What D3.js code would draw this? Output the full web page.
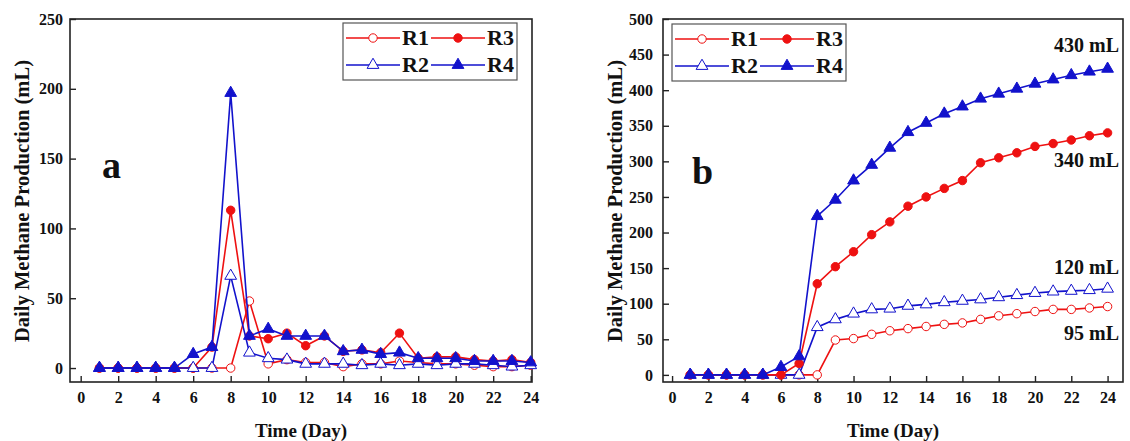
<!DOCTYPE html>
<html>
<head>
<meta charset="utf-8">
<script src="https://cdn.jsdelivr.net/npm/d3@7"></script>
<style>
  body { margin: 0; background: #fff; }
  svg text { font-family: "Liberation Serif", "Times New Roman", serif; font-weight: bold; fill: #111; }
</style>
</head>
<body>
<svg id="chart" width="1130" height="441"></svg>
<script>
// DATA
const days = d3.range(1, 25);
const seriesNames = ["R1", "R2", "R3", "R4"];

// panel a : daily production (mL)
const dailyR1 = [0, 0, 0, 0, 0, 0, 0, 0, 48, 3, 6, 4, 4, 1, 3, 3, 5, 4, 3, 3, 2, 1, 1, 2];
const dailyR2 = [0, 0, 0, 0, 0, 0, 0, 66, 11, 7, 6, 3, 3, 3, 2, 3, 2, 3, 2, 3, 3, 2, 1, 2];
const dailyR3 = [0, 0, 0, 0, 0, 0, 15, 113, 23, 21, 25, 16, 23, 12, 13, 11, 25, 7, 8, 8, 6, 5, 6, 4];
const dailyR4 = [0, 0, 0, 0, 0, 10, 15, 197, 23, 28, 23, 23, 23, 12, 13, 10, 11, 7, 7, 7, 5, 5, 5, 4];

// panel b : cumulative production (mL)
const cumR1 = [0, 0, 0, 0, 0, 0, 0, 0, 49, 51, 57, 62, 65, 68, 71, 73, 78, 83, 86, 89, 92, 92, 94, 96];
const cumR2 = [0, 0, 0, 0, 0, 0, 0, 67, 78, 86, 92, 93, 97, 99, 102, 104, 106, 109, 112, 115, 117, 118, 119, 121];
const cumR3 = [0, 0, 0, 0, 0, 0, 16, 128, 152, 173, 197, 215, 237, 250, 262, 273, 298, 305, 312, 321, 325, 330, 336, 340];
const cumR4 = [0, 0, 0, 0, 0, 11, 26, 223, 246, 273, 295, 319, 341, 354, 367, 377, 388, 395, 402, 409, 415, 421, 426, 430];

const xTicks = d3.range(0, 25, 2);
const yTicksA = d3.range(0, 251, 50);
const yTicksB = d3.range(0, 501, 50);
const finalLabels = [
  { text: "430 mL", value: 430, dy: -17 },
  { text: "340 mL", value: 340, dy: 34 },
  { text: "120 mL", value: 121, dy: -15 },
  { text: "95 mL", value: 96, dy: 33 },
];

const red = "#ee1111", blue = "#1212cc";
const styles = {
  R1: { color: red, shape: "circle", filled: false },
  R2: { color: blue, shape: "triangle", filled: false },
  R3: { color: red, shape: "circle", filled: true },
  R4: { color: blue, shape: "triangle", filled: true },
};

const svg = d3.select("#chart");

function marker(sel, name) {
  const s = styles[name];
  const sym = d3.symbol()
    .type(s.shape === "circle" ? d3.symbolCircle : d3.symbolTriangle)
    .size(s.shape === "circle" ? 56 : 60);
  sel.append("path")
    .attr("d", sym)
    .attr("fill", s.filled ? s.color : "#fff")
    .attr("stroke", s.color)
    .attr("stroke-width", 1);
}

function drawPanel(p) {
  const x = d3.scaleLinear().domain(p.xDomain).range([p.left, p.right]);
  const y = d3.scaleLinear().domain(p.yDomain).range([p.bottom, p.top]);
  const g = svg.append("g");

  // frame
  g.append("rect")
    .attr("x", p.left).attr("y", p.top)
    .attr("width", p.right - p.left).attr("height", p.bottom - p.top)
    .attr("fill", "none").attr("stroke", "#222").attr("stroke-width", 1.6);

  // x axis, ticks inward
  const gx = g.append("g").attr("transform", `translate(0,${p.bottom})`)
    .call(d3.axisBottom(x).tickValues(xTicks).tickSize(-6).tickPadding(10));
  gx.select(".domain").remove();
  gx.selectAll("line").attr("stroke", "#222").attr("stroke-width", 1.4);
  gx.selectAll("text").attr("font-size", 16).attr("font-family", null);

  // y axis, ticks inward
  const gy = g.append("g").attr("transform", `translate(${p.left},0)`)
    .call(d3.axisLeft(y).tickValues(p.yTicks).tickSize(-6).tickPadding(p.yPad));
  gy.select(".domain").remove();
  gy.selectAll("line").attr("stroke", "#222").attr("stroke-width", 1.4);
  gy.selectAll("text").attr("font-size", 16).attr("font-family", null);

  // axis titles
  g.append("text")
    .attr("x", (p.left + p.right) / 2).attr("y", 437)
    .attr("text-anchor", "middle").attr("font-size", 19)
    .text("Time (Day)");
  g.append("text")
    .attr("transform", `translate(${p.yTitleX},${201}) rotate(-90)`)
    .attr("text-anchor", "middle").attr("font-size", 20)
    .attr("textLength", 282).attr("lengthAdjust", "spacingAndGlyphs")
    .text("Daily Methane Production (mL)");

  // series
  const line = d3.line().x((d) => x(d[0])).y((d) => y(d[1]));
  for (const name of p.order) {
    const vals = p.series[name];
    const pts = days.map((d, i) => [d, vals[i]]);
    const s = styles[name];
    g.append("path").datum(pts)
      .attr("d", line).attr("fill", "none")
      .attr("stroke", s.color).attr("stroke-width", 1.6);
    g.append("g").selectAll("g").data(pts).join("g")
      .attr("transform", (d) => `translate(${x(d[0])},${y(d[1])})`)
      .each(function () { marker(d3.select(this), name); });
  }

  // panel letter
  g.append("text")
    .attr("x", p.letterX).attr("y", p.letterY)
    .attr("font-size", 38).text(p.letter);

  // legend
  const lg = g.append("g").attr("transform", `translate(${p.legX},${p.legY})`);
  lg.append("rect").attr("width", 174).attr("height", 57)
    .attr("fill", "#fff").attr("stroke", "#555").attr("stroke-width", 1.2);
  const cells = [
    ["R1", 0, 0], ["R3", 1, 0], ["R2", 0, 1], ["R4", 1, 1],
  ];
  for (const [name, col, row] of cells) {
    const cx = 3 + col * 85, cy = 15 + row * 27;
    lg.append("line")
      .attr("x1", cx).attr("x2", cx + 54).attr("y1", cy).attr("y2", cy)
      .attr("stroke", styles[name].color).attr("stroke-width", 1.6);
    const m = lg.append("g").attr("transform", `translate(${cx + 27},${cy})`);
    marker(m, name);
    lg.append("text").attr("x", cx + 56).attr("y", cy + 7)
      .attr("font-size", 22).text(name);
  }

  if (p.labels) {
    for (const l of p.labels) {
      g.append("text")
        .attr("x", p.labelX).attr("y", y(l.value) + l.dy)
        .attr("text-anchor", "end").attr("font-size", 20)
        .text(l.text);
    }
  }
}

drawPanel({
  left: 70, right: 532, top: 19, bottom: 382,
  xDomain: [-0.57, 24.07], yDomain: [-10, 250], yTicks: yTicksA, yPad: 7,
  yTitleX: 29,
  series: { R1: dailyR1, R2: dailyR2, R3: dailyR3, R4: dailyR4 },
  order: ["R1", "R3", "R2", "R4"],
  letter: "a", letterX: 102, letterY: 178,
  legX: 343, legY: 23,
});

drawPanel({
  left: 663, right: 1123, top: 19, bottom: 382,
  xDomain: [-0.5, 24.85], yDomain: [-10, 500], yTicks: yTicksB, yPad: 10,
  yTitleX: 622,
  series: { R1: cumR1, R2: cumR2, R3: cumR3, R4: cumR4 },
  order: ["R1", "R2", "R3", "R4"],
  letter: "b", letterX: 692, letterY: 184,
  legX: 672, legY: 24,
  labels: finalLabels, labelX: 1119,
});
</script>
</body>
</html>
